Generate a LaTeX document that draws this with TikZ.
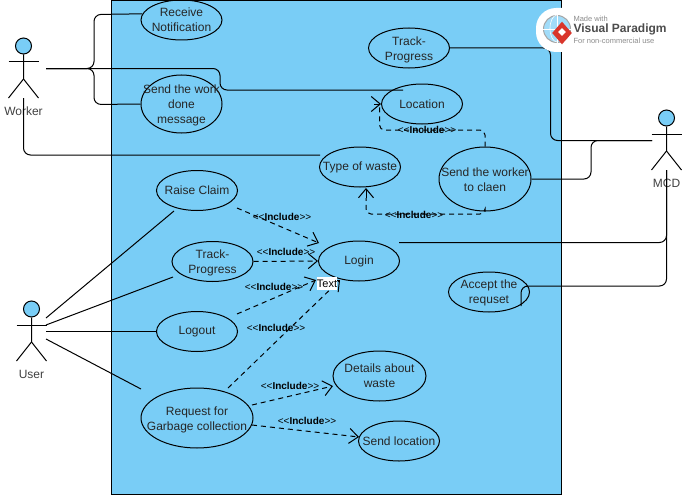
\documentclass[tikz,border=0pt]{standalone}
\usepackage{fontspec}
\setmainfont{Liberation Sans}
\usetikzlibrary{arrows.meta,shapes.geometric}
\definecolor{sysblue}{HTML}{79CDF6}
\definecolor{vpred}{HTML}{D9352B}
\newcommand{\incltxt}{<{}<\textbf{Include}>{}>}
\newcommand{\lowr}[1]{\rule{0pt}{#1pt}}
\tikzset{
  usecase/.style={ellipse,draw,inner xsep=-16pt,inner ysep=-12pt,minimum width=81pt,minimum height=40pt,
    align=center,text=black!85,font=\fontsize{12}{15}\selectfont},
  assoc/.style={rounded corners=7pt},
  incl/.style={->,dash pattern=on 5pt off 4pt},
  incltext/.style={inner sep=0pt,font=\fontsize{10}{12}\selectfont},
}
\begin{document}
\begin{tikzpicture}[x=1pt,y=-1pt,line width=1pt,>={Straight Barb[length=9pt,width=15pt]}]
\useasboundingbox (0,0) rectangle (682,495);
\node (system) at (336.5,247.5) [draw,fill=sysblue,minimum width=450pt,minimum height=494pt,inner sep=0pt]{};

% actors
\foreach \nm/\ax/\ay/\txt in {worker/23.5/46/Worker,user/31.5/309/User,mcd/666.5/118/MCD}{
  \node (\nm) at (\ax,\ay) [circle,draw,fill=sysblue,minimum size=16pt,inner sep=0pt]{};
  \draw (\nm.south)--(\ax,\ay+33)--(\ax-15,\ay+52);
  \draw (\ax,\ay+33)--(\ax+15,\ay+52);
  \draw (\ax-15,\ay+16)--(\ax+15,\ay+16);
  \node (\nm text) at (\ax,\ay+65) [text=black!75,inner sep=0pt,font=\fontsize{12}{14}\selectfont]{\txt};
}

% use cases
\node (notify) at (181.5,20) [usecase]{Receive\\Notification};
\node (workdone) at (181.5,104) [usecase,minimum height=58pt]{\lowr{12}Send the work\\done\\message};
\node (trackmcd) at (409,48) [usecase]{\lowr{13}Track-\\Progress};
\node (location) at (422,104) [usecase]{Location};
\node (waste) at (360,167) [usecase]{Type of waste};
\node (sendworker) at (485,179) [usecase,minimum width=92pt,minimum height=64pt]{\lowr{11}Send the worker\\to claen};
\node (claim) at (197,190.5) [usecase]{Raise Claim};
\node (trackuser) at (212.5,261.5) [usecase]{\lowr{11}Track-\\Progress};
\node (login) at (359,261) [usecase]{Login};
\node (logout) at (197,331.5) [usecase]{Logout};
\node (request) at (197,418) [usecase,minimum width=112pt,minimum height=60pt]{\lowr{13}Request for\\Garbage collection};
\node (details) at (379.5,376) [usecase,minimum width=93pt,minimum height=50pt]{Details about\\waste};
\node (sendloc) at (399,441) [usecase]{Send location};
\node (accept) at (489,292) [usecase]{\lowr{11}Accept the\\requset};

% free ends
\coordinate (workerhand) at (46,68.5);
\coordinate (workerfoot) at (23.5,98);
\coordinate (locin) at (403,90);
\coordinate (wastein) at (320,155);
\coordinate (mcdhand) at (652,140.5);
\coordinate (mcdfoot) at (666.5,170);
\coordinate (loginout) at (399,242.5);
\coordinate (acceptout) at (521,306);
\coordinate (userA) at (46,318);
\coordinate (userB) at (46,325);
\coordinate (userC) at (46,331.5);
\coordinate (userD) at (46,339);
\coordinate (claimin) at (174,211);
\coordinate (trackin) at (173,277);
\coordinate (requestin) at (141,389);

% worker and mcd lines
\draw[assoc] (workerhand)--(94,68.5)--(94,14.5)--(notify.171);
\draw[assoc] (workerhand)--(94,68.5)--(94,104.5)--(workdone.west);
\draw[assoc] (workerhand)--(220,68.5)--(220,90)--(locin);
\draw[assoc] (workerfoot)--(23.5,155)--(wastein);
\draw[assoc] (trackmcd.east)--(550.5,48)--(550.5,140.5)--(mcdhand);
\draw[assoc] (sendworker.east)--(591,179)--(591,140.5)--(mcdhand);
\draw[assoc] (loginout)--(666.5,242.5)--(mcdfoot);
\draw[assoc] (acceptout)--(521,286)--(666.5,286)--(mcdfoot);

% user lines
\draw (userA)--(claimin);
\draw (userB)--(trackin);
\draw (userC)--(logout.west);
\draw (userD)--(requestin);

% include arrows
\coordinate (claimout) at (237,208);
\coordinate (loginA) at (319,243);
\coordinate (logoutout) at (237,314);
\coordinate (loginB) at (316,280);
\coordinate (requestA) at (228,388);
\coordinate (loginC) at (340,280);
\coordinate (requestB) at (252,405);
\coordinate (detailsin) at (333,386);
\coordinate (requestC) at (252,425);
\coordinate (sendlocin) at (359,437);
\coordinate (locationbar) at (374,104);
\coordinate (wastebar) at (366,198);
\coordinate (wastetip) at (366,188);
\draw[incl] (claimout)--(loginA);
\draw[incl] (trackuser.east)--(login.west);
\draw[incl] (logoutout)--(loginB);
\draw[incl] (requestA)--(loginC);
\draw[incl] (requestB)--(detailsin);
\draw[incl] (requestC)--(sendlocin);
\draw[dash pattern=on 5pt off 4pt,rounded corners=5pt] (sendworker.north)--(485,130)--(379.5,130)--(379.5,106);
\draw[->] (locationbar)--(location.west);
\draw[dash pattern=on 5pt off 4pt,rounded corners=5pt] (sendworker.south)--(485,214)--(366,214)--(wastebar);
\draw[->] (wastebar)--(wastetip);

\node (inclA) at (282,217) [incltext]{\incltxt};
\node (inclB) at (286,252) [incltext]{\incltxt};
\node (inclC) at (274,287) [incltext]{\incltxt};
\node (inclD) at (276,328) [incltext]{\incltxt};
\node (inclE) at (427,130) [incltext]{\incltxt};
\node (inclF) at (414,215) [incltext]{\incltxt};
\node (inclG) at (290,386) [incltext]{\incltxt};
\node (inclH) at (307,421) [incltext]{\incltxt};
\node (textbox) at (327,283.5) [fill=white,inner sep=0pt,minimum width=20pt,minimum height=13pt,font=\fontsize{11}{13}\selectfont]{Text};

% watermark
\node (badge) at (605.5,30) [fill=white,rounded corners=20pt,minimum width=139pt,minimum height=44pt,inner sep=0pt]{};
\node (globe) at (557,29) [circle,draw=black!35,fill=sysblue!70,minimum size=27pt,inner sep=0pt]{};
\draw[white,line width=.6pt] (globe.west)--(globe.east) (globe.north)--(globe.south);
\draw[white,line width=.6pt] (globe.north) arc[start angle=90,end angle=270,x radius=7pt,y radius=13.5pt];
\node (logo) at (562,33) [diamond,fill=vpred,minimum width=20pt,minimum height=23pt,inner sep=0pt]{};
\node (logoin) at (562,32) [diamond,fill=white,minimum size=8pt,inner sep=0pt]{};
\node (made) at (573,19) [anchor=west,inner sep=0pt,text=black!45,font=\fontsize{7.5}{9}\selectfont]{Made with};
\node (vpname) at (573,29.5) [anchor=west,inner sep=0pt,text=black!70,font=\fontsize{12}{14}\selectfont\bfseries]{Visual Paradigm};
\node (noncomm) at (573,40.5) [anchor=west,inner sep=0pt,text=black!45,font=\fontsize{7.5}{9}\selectfont]{For non-commercial use};
\end{tikzpicture}
\end{document}
